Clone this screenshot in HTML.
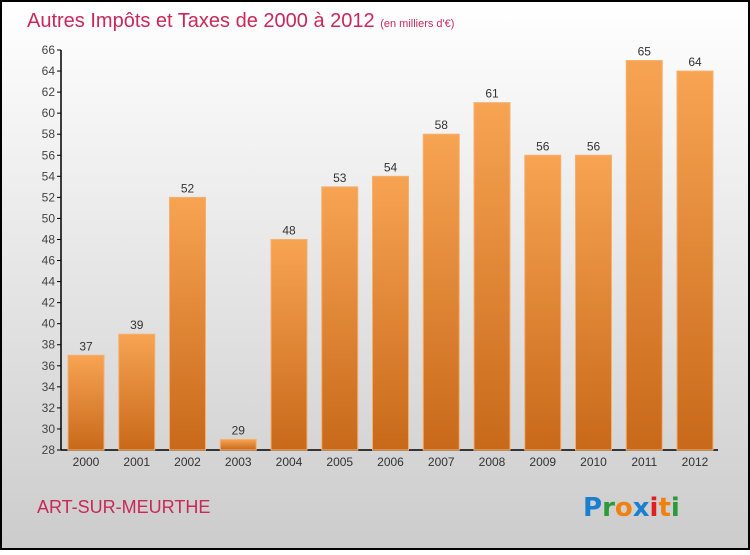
<!DOCTYPE html>
<html><head><meta charset="utf-8"><style>
body{margin:0;width:750px;height:550px;overflow:hidden;font-family:"Liberation Sans",sans-serif}
</style></head><body>
<svg id="c" width="750" height="550">
<defs>
<linearGradient id="bg" x1="0" y1="0" x2="0" y2="1"><stop offset="0" stop-color="#ffffff"/><stop offset="1" stop-color="#cccccc"/></linearGradient>
<linearGradient id="bar" x1="0" y1="0" x2="0" y2="1"><stop offset="0" stop-color="#f7a452"/><stop offset="1" stop-color="#c8691a"/></linearGradient>
</defs>
<rect x="1" y="1" width="748" height="548" fill="url(#bg)" stroke="#000" stroke-width="2"/>
<text x="27" y="27" font-size="20" fill="#c8285a">Autres Impôts et Taxes de 2000 à 2012 <tspan font-size="11">(en milliers d'€)</tspan></text>
<text x="37" y="513" font-size="18" fill="#c8285a">ART-SUR-MEURTHE</text>
<g font-size="26" font-weight="bold" font-family="'DejaVu Sans',sans-serif">
<text x="583" y="516"><tspan fill="#1a7fd0">P</tspan><tspan fill="#2a9a3a">r</tspan><tspan fill="#f08010">o</tspan><tspan fill="#1a7fd0">x</tspan><tspan fill="#e02020">i</tspan><tspan fill="#f08010">t</tspan><tspan fill="#2a9a3a">i</tspan></text>
</g>
<g id="ax"></g><g id="bars"></g>
</svg>
<script>
const years=["2000","2001","2002","2003","2004","2005","2006","2007","2008","2009","2010","2011","2012"];
const values=[37,39,52,29,48,53,54,58,61,56,56,65,64];
const ticks=[28,30,32,34,36,38,40,42,44,46,48,50,52,54,56,58,60,62,64,66];
const NS="http://www.w3.org/2000/svg";
const y=v=>450-(v-28)*400/38;
const x=i=>68+i*50.75;
function mk(t,a,p){const e=document.createElementNS(NS,t);for(const k in a)e.setAttribute(k,a[k]);p.appendChild(e);return e;}
const ax=document.getElementById('ax'),bars=document.getElementById('bars');
let l=mk('line',{x1:61,y1:50,x2:61,y2:450,stroke:'#000','stroke-width':1.5},ax);


l=mk('line',{x1:61,y1:450,x2:718,y2:450,stroke:'#000','stroke-width':1.5},ax);


ticks.forEach(t=>{
 mk('line',{x1:57,y1:y(t),x2:61,y2:y(t),stroke:'#000'},ax);
 const tx=mk('text',{x:55,y:y(t)+4,'text-anchor':'end','font-size':12,fill:'#444'},ax);
 tx.textContent=t;
 
 
});
values.forEach((v,i)=>{
 const r=mk('rect',{x:x(i),y:y(v),width:36,height:450-y(v),fill:'url(#bar)',stroke:'#f5b070','stroke-width':1},bars);
 
 
 const vt=mk('text',{x:x(i)+18,y:y(v)-5,'text-anchor':'middle','font-size':12,fill:'#333'},bars);
 vt.textContent=v;
 
 
 const xt=mk('text',{x:x(i)+18,y:466,'text-anchor':'middle','font-size':12,fill:'#333'},bars);
 xt.textContent=years[i];
 
 
});
</script>
</body></html>
